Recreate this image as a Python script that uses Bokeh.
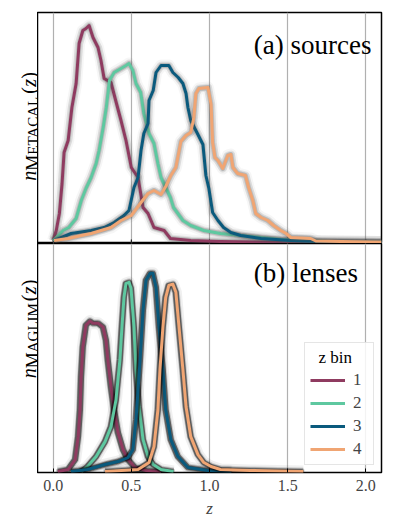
import numpy as np
from bokeh.plotting import figure
from bokeh.layouts import column, row
from bokeh.models import Range1d, FixedTicker, Label, Legend, LegendItem, PrintfTickFormatter
from bokeh.embed import file_html
from bokeh.resources import INLINE

FONT = "Liberation Serif"

# ---------------- data: source n(z), METACAL (arbitrary units) ----------------
src1_z = [0.00, 0.02, 0.04, 0.057, 0.07, 0.096, 0.12, 0.147, 0.166, 0.19, 0.21, 0.23, 0.255, 0.287,
          0.306, 0.326, 0.37, 0.40, 0.434, 0.466, 0.50, 0.543, 0.575, 0.607, 0.645, 0.71, 0.75, 0.88,
          1.07, 1.33, 1.6, 2.1]
src1_n = [2, 12, 29, 59, 90, 102, 135, 159, 199, 212, 214, 217, 205, 195,
          182, 164, 160, 142, 122, 102, 75, 65, 35, 29, 15, 12, 4, 2,
          1, 0.5, 0, 0]

src2_z = [0.00, 0.04, 0.064, 0.10, 0.147, 0.18, 0.21, 0.243, 0.275, 0.294, 0.32, 0.34, 0.36, 0.39,
          0.434, 0.466, 0.485, 0.51, 0.53, 0.56, 0.58, 0.613, 0.645, 0.67, 0.69, 0.72, 0.75, 0.77,
          0.83, 0.88, 0.964, 1.07, 1.2, 1.33, 1.456, 1.58, 1.78, 2.1]
src2_n = [2, 8, 12, 15, 24, 42, 54, 65, 79, 92, 115, 135, 162, 170,
          174, 177, 179, 172, 159, 150, 129, 109, 99, 79, 65, 55, 45, 35,
          22, 17, 12, 9, 7, 5, 3, 2, 1, 0.5]

src3_z = [0.006, 0.115, 0.243, 0.326, 0.39, 0.453, 0.485, 0.517, 0.543, 0.562, 0.58, 0.607, 0.613,
          0.64, 0.658, 0.69, 0.74, 0.766, 0.80, 0.83, 0.85, 0.862, 0.88, 0.926, 0.958, 0.977, 0.996,
          1.02, 1.054, 1.09, 1.137, 1.2, 1.33, 1.52, 1.71, 2.1]
src3_n = [2, 9, 12, 15, 20, 27, 32, 55, 65, 92, 109, 119, 142,
          152, 170, 177, 177, 170, 165, 159, 149, 135, 122, 108, 98, 67, 54,
          30, 22, 15, 10, 7, 4, 2, 1, 0.5]

src4_z = [0.006, 0.096, 0.18, 0.243, 0.306, 0.37, 0.434, 0.50, 0.562, 0.607, 0.645, 0.69, 0.72,
          0.753, 0.785, 0.817, 0.85, 0.88, 0.90, 0.913, 0.932, 0.99, 1.01, 1.02, 1.035, 1.054, 1.085,
          1.117, 1.137, 1.15, 1.18, 1.23, 1.25, 1.277, 1.296, 1.33, 1.373, 1.41, 1.456, 1.49, 1.52,
          1.647, 1.68, 1.84, 2.1]
src4_n = [2, 4, 7, 9, 12, 15, 22, 27, 40, 49, 52, 48, 56,
          67, 75, 101, 107, 110, 125, 149, 154, 155, 138, 100, 85, 82, 74,
          87, 88, 75, 69, 67, 55, 42, 29, 25, 22, 17, 12, 9, 5,
          4, 1.5, 1, 0.5]

# ---------------- data: lens n(z), MAGLIM (arbitrary units) ----------------
lens1_z = [0.03, 0.096, 0.141, 0.16, 0.172, 0.179, 0.19, 0.21, 0.236, 0.255, 0.287, 0.319, 0.338,
           0.35, 0.37, 0.39, 0.415, 0.447, 0.479, 0.524, 0.594, 0.69]
lens1_n = [0, 2, 12, 35, 62, 95, 125, 147, 151, 149, 149, 145, 132,
           112, 85, 62, 39, 22, 12, 4, 1, 0]

lens2_z = [0.179, 0.22, 0.275, 0.332, 0.37, 0.402, 0.427, 0.44, 0.453, 0.466, 0.485, 0.498, 0.517,
           0.53, 0.549, 0.575, 0.607, 0.64, 0.69, 0.77]
lens2_n = [0, 5, 15, 30, 45, 72, 112, 145, 175, 189, 190, 184, 145,
           102, 65, 32, 15, 7, 2, 0]

lens3_z = [0.115, 0.22, 0.332, 0.415, 0.479, 0.51, 0.53, 0.556, 0.575, 0.594, 0.62, 0.638, 0.658,
           0.677, 0.702, 0.72, 0.753, 0.798, 0.862, 0.99, 1.14]
lens3_n = [0, 2, 7, 10, 14, 22, 52, 112, 162, 192, 199, 199, 185,
           145, 102, 62, 32, 15, 4, 1, 0]

lens4_z = [0.332, 0.543, 0.613, 0.645, 0.67, 0.683, 0.702, 0.72, 0.74, 0.766, 0.785, 0.805, 0.83,
           0.85, 0.88, 0.926, 0.964, 1.01, 1.07, 1.26, 1.6]
lens4_n = [0, 2, 9, 25, 62, 102, 145, 175, 187, 188, 180, 145, 102,
           65, 35, 17, 9, 5, 2, 1, 0]

bins = ["1", "2", "3", "4"]
colors = ["#8f3b60", "#5ec8a0", "#0a5a7d", "#f0a573"]
xticks = [0.0, 0.5, 1.0, 1.5, 2.0]

src = [(src1_z, src1_n), (src2_z, src2_n), (src3_z, src3_n), (src4_z, src4_n)]
lens = [(lens1_z, lens1_n), (lens2_z, lens2_n), (lens3_z, lens3_n), (lens4_z, lens4_n)]

xr = Range1d(-0.1, 2.1)
LABW = 37


def style(p):
    p.outline_line_color = "black"
    p.outline_line_width = 1.5
    p.xgrid.ticker = FixedTicker(ticks=xticks)
    p.xgrid.grid_line_color = "#b0b0b0"
    p.xgrid.grid_line_width = 1.2
    p.ygrid.visible = False
    p.xaxis.ticker = FixedTicker(ticks=xticks)
    p.xaxis.formatter = PrintfTickFormatter(format="%.1f")
    p.xaxis.major_tick_in = 4
    p.xaxis.major_tick_out = 0
    p.xaxis.major_tick_line_color = "black"
    p.xaxis.minor_tick_line_color = None
    p.xaxis.axis_line_color = None
    p.yaxis.visible = False
    p.background_fill_color = "white"
    p.border_fill_color = "white"


def label_fig(h, y0, sub, sub_w):
    f = figure(width=LABW, height=h, x_range=Range1d(0, LABW), y_range=Range1d(0, h),
               output_backend="svg", toolbar_location=None,
               min_border_left=0, min_border_right=0, min_border_top=0, min_border_bottom=0)
    f.axis.visible = False
    f.grid.visible = False
    f.outline_line_color = None
    xa = 28
    pieces = [("n", "20px", "italic", 0, 0),
              ("M", "18px", "normal", 4, 10),
              (sub, "15px", "normal", 4, 26)]
    end = 26 + sub_w
    pieces += [("(", "20px", "normal", 0, end + 2),
               ("z", "20px", "italic", 0, end + 9),
               (")", "20px", "normal", 0, end + 17)]
    for t, fs, st, xo, yo in pieces:
        f.add_layout(Label(x=xa, y=y0, text=t, angle=np.pi / 2, x_offset=xo, y_offset=yo,
                           text_font=FONT, text_font_size=fs, text_font_style=st,
                           text_align="left", text_baseline="alphabetic", text_color="black"))
    return f


# ---------------- top panel ----------------
H1 = 243
p1 = figure(width=348, height=H1, x_range=xr, y_range=Range1d(-1, 230),
            output_backend="svg", toolbar_location=None,
            min_border_left=0, min_border_right=4, min_border_top=12, min_border_bottom=0)
style(p1)
p1.xaxis.visible = False
# inward tick marks on the shared edge, at the tick values
p1.segment(x0=xticks, y0=[-1] * len(xticks), x1=xticks, y1=[3] * len(xticks),
           line_color="black", line_width=1)

for (z, n), c in zip(src, colors):
    za = np.asarray(z)
    for dz in (-0.008, 0.008):
        p1.line(za + dz, n, line_color="#555555", line_width=6, line_alpha=0.07, line_join="round")
    p1.line(za, n, line_color="#555555", line_width=12, line_alpha=0.05, line_join="round")
    p1.line(za, n, line_color="#555555", line_width=8, line_alpha=0.10, line_join="round")
    p1.line(za, n, line_color="#555555", line_width=5, line_alpha=0.2, line_join="round")
    p1.line(z, n, line_color=c, line_width=3, line_join="round")

p1.add_layout(Label(x=1.283, y=198, text="(a) sources", text_font=FONT, text_font_size="27px",
                    text_align="left", text_baseline="alphabetic", text_color="black"))
l1 = label_fig(H1, 66, "ETACAL", 59)

# ---------------- bottom panel ----------------
H2 = 277
p2 = figure(width=348, height=H2, x_range=xr, y_range=Range1d(-1, 229),
            output_backend="svg", toolbar_location=None,
            min_border_left=0, min_border_right=4, min_border_top=0, min_border_bottom=47)
style(p2)
p2.xaxis.major_label_text_font = FONT
p2.xaxis.major_label_text_font_size = "16px"
p2.xaxis.major_label_standoff = 7
p2.xaxis.axis_label = "z"
p2.xaxis.axis_label_text_font = FONT
p2.xaxis.axis_label_text_font_size = "17px"
p2.xaxis.axis_label_text_font_style = "italic"
p2.xaxis.axis_label_standoff = 5

items = []
for (z, n), c, b in zip(lens, colors, bins):
    za = np.asarray(z)
    p2.line(za, n, line_color="black", line_width=12, line_alpha=0.06, line_join="round")
    p2.line(za, n, line_color="black", line_width=8, line_alpha=0.15, line_join="round")
    for dz in (-0.009, 0.006):
        p2.line(za + dz, n, line_color="black", line_width=4, line_alpha=0.30, line_join="round")
    p2.line(za, n, line_color="black", line_width=6, line_alpha=0.35, line_join="round")
    r = p2.line(z, n, line_color=c, line_width=3, line_join="round")
    items.append(LegendItem(label=b, renderers=[r]))

legend = Legend(items=items, location="bottom_right", title="\u00a0\u00a0z bin",
                title_text_font=FONT, title_text_font_size="17px", title_standoff=2,
                title_text_font_style="normal", title_text_color="black",
                label_text_font=FONT, label_text_font_size="17px",
                glyph_width=35, glyph_height=20, label_height=20, label_width=15,
                label_standoff=8, spacing=3, padding=5, margin=7,
                border_line_color="#cccccc", border_line_width=1,
                background_fill_color="white", background_fill_alpha=0.85)
p2.add_layout(legend)

p2.add_layout(Label(x=1.283, y=199, text="(b) lenses", text_font=FONT, text_font_size="27px",
                    text_align="left", text_baseline="alphabetic", text_color="black"))
l2 = label_fig(H2, 114, "AGLIM", 49)

layout = column(row(l1, p1, spacing=0), row(l2, p2, spacing=0), spacing=0)
open("out.html", "w").write(file_html(layout, INLINE))
